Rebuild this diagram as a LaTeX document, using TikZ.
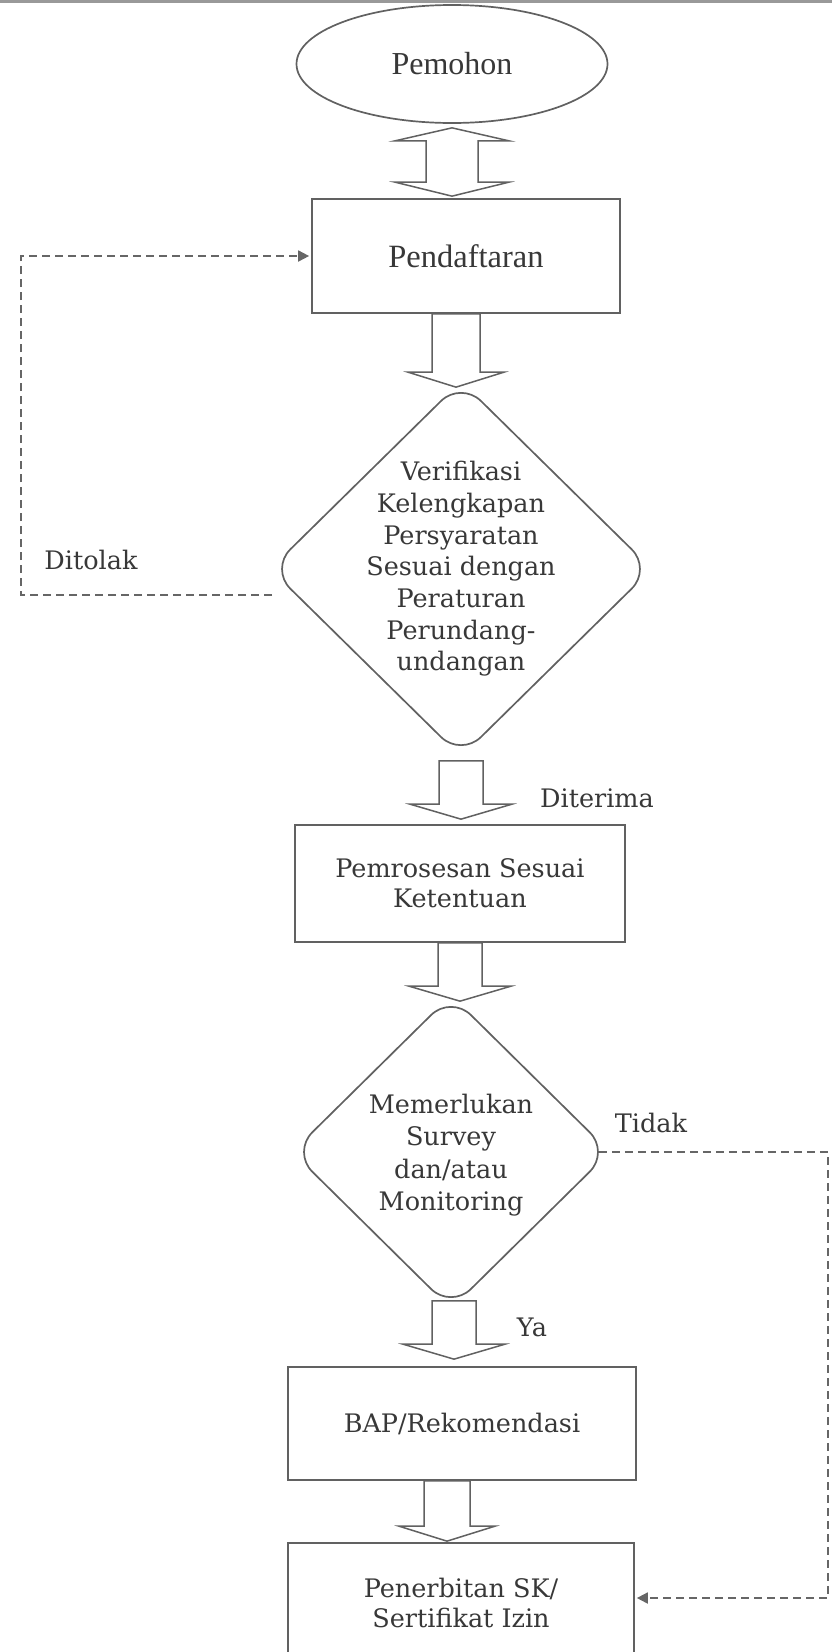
\documentclass[tikz,border=0pt]{standalone}
\usepackage{fontspec}
\setmainfont{DejaVu Serif}
\newfontfamily\timesf{Liberation Serif}
\usetikzlibrary{shapes.geometric,calc,arrows.meta}
\newcommand\blockdown[4]{%
  \draw[barrow] let \p1=(#1), \p2=(#2) in
    (\x2-#3pt,\y1) -- (\x2-#3pt,\y2+15pt) -- (\x2-#4pt,\y2+15pt) -- (\x2,\y2)
    -- (\x2+#4pt,\y2+15pt) -- (\x2+#3pt,\y2+15pt) -- (\x2+#3pt,\y1) -- cycle;}
\begin{document}
\begin{tikzpicture}[x=1pt,y=-1pt,
  outl/.style={draw=black!62, line width=1.7pt},
  box/.style={rectangle, outl, text=black!78, font=\fontsize{25.5}{30}\selectfont, align=center, inner sep=0pt},
  dia/.style={diamond, outl, rounded corners=28pt, inner sep=0pt},
  lab/.style={text=black!78, font=\fontsize{25.5}{31.7}\selectfont, inner sep=0pt, align=center},
  barrow/.style={draw=black!62, line width=1.5pt, fill=white, line join=miter},
  back/.style={draw=black!60, line width=1.8pt, dash pattern=on 8pt off 5pt, -{Triangle[length=11pt,width=11pt]}, shorten >=2pt},
]
\useasboundingbox (0,0) rectangle (832,1652);
\clip (0,0) rectangle (832,1652);
\fill[black!40] (0,0) rectangle (832,3);

% nodes
\node[ellipse, outl, minimum width=311pt, minimum height=118pt, inner sep=0pt, text=black!78, font=\timesf\fontsize{32}{36}\selectfont] (ell) at (452,64) {Pemohon};
\node[box, minimum width=308pt, minimum height=114pt, font=\timesf\fontsize{32.5}{36}\selectfont] (pend) at (466,256) {Pendaftaran};
\node[dia, minimum width=382pt, minimum height=376pt] (d1) at (461,569) {};
\node[lab] (t1) at (d1.center) {Verifikasi\\Kelengkapan\\Persyaratan\\Sesuai dengan\\Peraturan\\Perundang-\\undangan};
\node[box, minimum width=330pt, minimum height=117pt] (proc) at (460,883.5) {Pemrosesan Sesuai\\Ketentuan};
\node[dia, minimum width=318pt, minimum height=314pt] (d2) at (451,1152) {};
\node[lab, font=\fontsize{25.5}{32.5}\selectfont] (t2) at ($(d2.center)+(0,3)$) {Memerlukan\\Survey\\dan/atau\\Monitoring};
\node[box, minimum width=348pt, minimum height=113pt] (bap) at (462,1423.5) {BAP/Rekomendasi};
\node[box, minimum width=346pt, minimum height=120pt] (pen) at (461,1603) {Penerbitan SK/\\Sertifikat Izin};

% labels
\node[lab] (lditolak) at (91,560) {Ditolak};
\node[lab] (lditerima) at (597,798) {Diterima};
\node[lab] (ltidak) at (651,1123) {Tidak};
\node[lab] (lya) at (532,1327) {Ya};

% double arrow Pemohon <-> Pendaftaran
\draw[barrow] let \p1=($(ell.south)+(0,4)$), \p2=($(ell.south |- pend.north)+(0,-2)$) in
  (\x1,\y1) -- (\x1+57pt,\y1-13pt) -- (\x1+26pt,\y1-13pt) -- (\x1+26pt,\y2+14pt)
  -- (\x1+57pt,\y2+14pt) -- (\x2,\y2) -- (\x1-57pt,\y2+14pt) -- (\x1-26pt,\y2+14pt)
  -- (\x1-26pt,\y1-13pt) -- (\x1-57pt,\y1-13pt) -- cycle;

% block arrows
\blockdown{$(d1.north |- pend.south)$}{$(d1.north)+(-5,7)$}{24}{48}
\blockdown{$(d1.south)+(0,3)$}{$(proc.north)+(1,-5)$}{22}{51}
\blockdown{$(proc.south)$}{$(d2.north)+(9,7)$}{22}{51}
\blockdown{$(d2.south)+(0,-9)$}{$(bap.north)+(-8,-7)$}{22}{51}
\blockdown{$(bap.south)$}{$(pen.north)+(-14,-1)$}{23}{48}

% dashed feedback connectors
\draw[back] ($(d1.west)+(3,26)$) -- ++(-251,0) |- (pend.west);
\draw[back] ($(d2.east)+(-12,0)$) -- ++(229,0) |- ($(pen.east)+(0,-5)$);
\end{tikzpicture}
\end{document}
